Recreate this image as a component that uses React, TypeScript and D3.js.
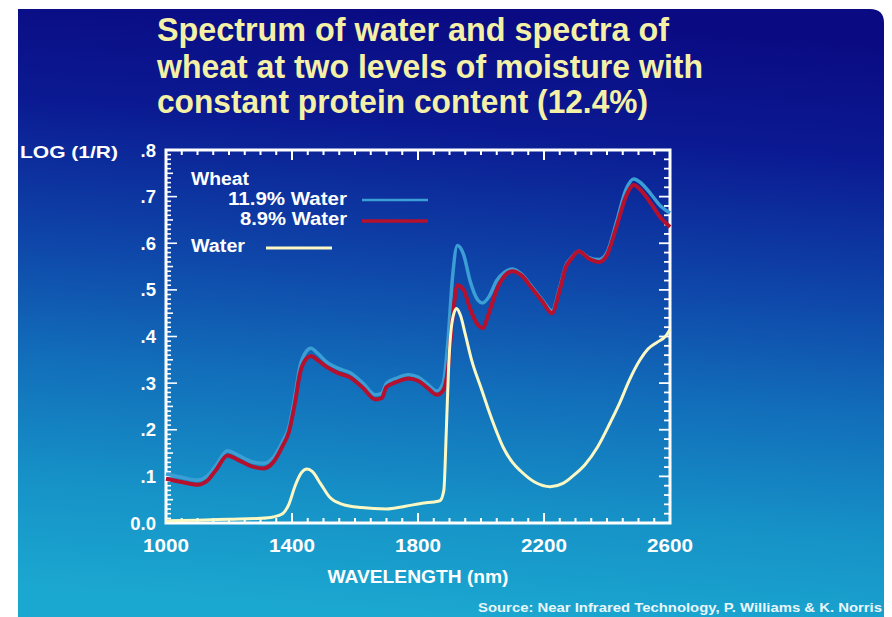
import React from "react";
import * as d3 from "d3";

const titleLines = [
  "Spectrum of water and spectra of",
  "wheat at two levels of moisture with",
  "constant protein content (12.4%)",
];
const yTickValues = [0, 0.1, 0.2, 0.3, 0.4, 0.5, 0.6, 0.7, 0.8];
const yTickLabels = ["0.0", ".1", ".2", ".3", ".4", ".5", ".6", ".7", ".8"];
const xTickValues = [1000, 1400, 1800, 2200, 2600];
const xTickLabels = ["1000", "1400", "1800", "2200", "2600"];

const wheatWavelengths = [1000,1050,1100,1130,1160,1195,1230,1270,1310,1340,1370,1390,1410,1425,1445,1460,1480,1510,1545,1585,1625,1665,1685,1700,1730,1770,1800,1830,1860,1880,1895,1910,1925,1945,1965,1990,2005,2025,2050,2075,2100,2130,2160,2195,2225,2250,2270,2285,2310,2340,2375,2400,2430,2460,2485,2510,2540,2570,2600];
const wheat119 = [0.105,0.098,0.092,0.1,0.125,0.155,0.145,0.132,0.128,0.14,0.175,0.205,0.275,0.335,0.368,0.375,0.365,0.345,0.332,0.322,0.3,0.275,0.278,0.3,0.31,0.318,0.313,0.298,0.283,0.3,0.39,0.53,0.595,0.575,0.52,0.478,0.472,0.485,0.52,0.538,0.545,0.533,0.508,0.478,0.455,0.505,0.553,0.567,0.583,0.57,0.565,0.58,0.645,0.715,0.738,0.728,0.705,0.68,0.665];
const wheat89 = [0.095,0.088,0.082,0.09,0.115,0.145,0.135,0.122,0.117,0.13,0.165,0.195,0.26,0.32,0.352,0.358,0.35,0.335,0.322,0.312,0.29,0.265,0.268,0.292,0.302,0.31,0.305,0.29,0.275,0.285,0.33,0.44,0.51,0.5,0.46,0.425,0.418,0.45,0.5,0.53,0.54,0.53,0.505,0.475,0.45,0.5,0.55,0.565,0.583,0.568,0.56,0.575,0.635,0.7,0.725,0.712,0.685,0.655,0.635];

const waterWavelengths = [1000,1100,1200,1300,1340,1370,1390,1410,1430,1448,1465,1490,1520,1560,1620,1700,1760,1820,1850,1870,1882,1890,1897,1908,1922,1935,1950,1970,2000,2020,2050,2070,2100,2125,2170,2220,2260,2290,2330,2370,2410,2440,2470,2505,2530,2560,2585,2600];
const waterValues = [0.005,0.006,0.008,0.01,0.013,0.02,0.04,0.08,0.108,0.116,0.11,0.085,0.055,0.04,0.033,0.03,0.036,0.043,0.045,0.048,0.07,0.2,0.33,0.43,0.46,0.445,0.405,0.35,0.29,0.25,0.195,0.163,0.13,0.112,0.088,0.078,0.085,0.1,0.125,0.163,0.215,0.257,0.305,0.35,0.373,0.388,0.4,0.415];

const legendWheat = "Wheat";
const legendLabels = ["11.9% Water", "8.9% Water", "Water"];

const FONT = "'Liberation Sans', Arial, Helvetica, sans-serif";

export default function App() {
  const W = 892, H = 617;
  const x = d3.scaleLinear().domain([1000, 2600]).range([166, 670]);
  const y = d3.scaleLinear().domain([0, 0.8]).range([523, 150]);
  const line = d3.line<[number, number]>()
    .x(d => x(d[0]))
    .y(d => y(d[1]))
    .curve(d3.curveMonotoneX);
  const blueD = line(wheatWavelengths.map((w, i) => [w, wheat119[i]]) as [number, number][]) || "";
  const redD = line(wheatWavelengths.map((w, i) => [w, wheat89[i]]) as [number, number][]) || "";
  const waterD = line(waterWavelengths.map((w, i) => [w, waterValues[i]]) as [number, number][]) || "";

  const xMinor = d3.range(1000, 2601, 50);
  const yMinorLeft = d3.range(0, 81, 1).map(v => v / 100);
  const yMinorRight = d3.range(0, 41, 1).map(v => v / 50);

  const x0 = x(1000), x1 = x(2600), y0 = y(0), y1 = y(0.8);
  const tickColor = "#ffffff";

  const slidePath = `M18,9 L870,9 Q884,9 884,23 L884,617 L18,617 Z`;

  const titleWidths = [512, 546, 491];
  const titleBase = [41, 78, 113];

  const legendText = [
    { t: legendWheat, x: 191, y: 185, anchor: "start", w: 58 },
    { t: legendLabels[0], x: 347, y: 205, anchor: "end", w: 119 },
    { t: legendLabels[1], x: 347, y: 225, anchor: "end", w: 107 },
    { t: legendLabels[2], x: 191, y: 252, anchor: "start", w: 54 },
  ];

  return (
    <div style={{ position: "absolute", left: 0, top: 0 }}>
      <svg width={W} height={H} viewBox={`0 0 ${W} ${H}`} style={{ display: "block" }}>
        <defs>
          <linearGradient id="bg" x1="0.55" y1="0" x2="0.45" y2="1">
            <stop offset="0" stopColor="#0a0a82" />
            <stop offset="0.2" stopColor="#0b1a92" />
            <stop offset="0.42" stopColor="#0e44a8" />
            <stop offset="0.62" stopColor="#126eba" />
            <stop offset="0.82" stopColor="#1692c7" />
            <stop offset="1" stopColor="#1ba8d0" />
          </linearGradient>
        </defs>
        <rect x={0} y={0} width={W} height={H} fill="#ffffff" />
        <path d={slidePath} fill="url(#bg)" />

        {titleLines.map((t, i) => (
          <text key={i} x={157} y={titleBase[i]} fontFamily={FONT} fontWeight="bold" fontSize={33}
            fill="#f4f0a6" textLength={titleWidths[i]} lengthAdjust="spacingAndGlyphs">{t}</text>
        ))}

        {/* frame */}
        <rect x={x0} y={y1} width={x1 - x0} height={y0 - y1} fill="none" stroke="#ffffff" strokeWidth={3} />

        {/* bottom & top ticks */}
        {xMinor.map(v => {
          const major = (v - 1000) % 400 === 0;
          const len = major ? 10 : 5;
          return (
            <g key={"xt" + v}>
              <line x1={x(v)} x2={x(v)} y1={y0} y2={y0 - len} stroke={tickColor} strokeWidth={2} />
              <line x1={x(v)} x2={x(v)} y1={y1} y2={y1 + len} stroke={tickColor} strokeWidth={2} />
            </g>
          );
        })}
        {/* left ticks */}
        {yMinorLeft.map((v, i) => {
          const len = i % 10 === 0 ? 11 : i % 5 === 0 ? 7 : 5;
          return <line key={"yl" + i} x1={x0} x2={x0 + len} y1={y(v)} y2={y(v)} stroke={tickColor} strokeWidth={1.6} />;
        })}
        {/* right ticks */}
        {yMinorRight.map((v, i) => {
          const len = i % 5 === 0 ? 11 : 6;
          return <line key={"yr" + i} x1={x1} x2={x1 - len} y1={y(v)} y2={y(v)} stroke={tickColor} strokeWidth={1.8} />;
        })}

        {/* y labels */}
        {yTickValues.map((v, i) => (
          <text key={"yl" + i} x={156} y={y(v) + 6.5} textAnchor="end" fontFamily={FONT} fontWeight="bold"
            fontSize={18.5} fill="#ffffff">{yTickLabels[i]}</text>
        ))}
        <text x={20} y={158} fontFamily={FONT} fontWeight="bold" fontSize={17} fill="#ffffff"
          textLength={98} lengthAdjust="spacingAndGlyphs">LOG (1/R)</text>

        {/* x labels */}
        {xTickValues.map((v, i) => (
          <text key={"xl" + i} x={x(v)} y={552} textAnchor="middle" fontFamily={FONT} fontWeight="bold"
            fontSize={19} fill="#ffffff" textLength={46} lengthAdjust="spacingAndGlyphs">{xTickLabels[i]}</text>
        ))}
        <text x={418} y={583} textAnchor="middle" fontFamily={FONT} fontWeight="bold" fontSize={19}
          fill="#ffffff" textLength={181} lengthAdjust="spacingAndGlyphs">WAVELENGTH (nm)</text>

        {/* curves */}
        <path d={blueD} fill="none" stroke="#3b9fd6" strokeWidth={3.5} strokeLinejoin="round" />
        <path d={redD} fill="none" stroke="#b5102e" strokeWidth={4} strokeLinejoin="round" />
        <path d={waterD} fill="none" stroke="#fcf8c4" strokeWidth={3} strokeLinejoin="round" />

        {/* legend */}
        {legendText.map((l, i) => (
          <text key={"lg" + i} x={l.x} y={l.y} textAnchor={l.anchor} fontFamily={FONT} fontWeight="bold"
            fontSize={18} fill="#ffffff" textLength={l.w} lengthAdjust="spacingAndGlyphs">{l.t}</text>
        ))}
        <line x1={362} x2={428} y1={200} y2={200} stroke="#3b9fd6" strokeWidth={2.5} />
        <line x1={362} x2={428} y1={221} y2={221} stroke="#b5102e" strokeWidth={3.5} />
        <line x1={266} x2={332} y1={248} y2={248} stroke="#fcf8c4" strokeWidth={3} />

        <text x={478} y={612} fontFamily={FONT} fontWeight="bold" fontSize={12.5} fill="#eaf6fa"
          textLength={404} lengthAdjust="spacingAndGlyphs">Source: Near Infrared Technology, P. Williams &amp; K. Norris</text>
      </svg>
    </div>
  );
}
